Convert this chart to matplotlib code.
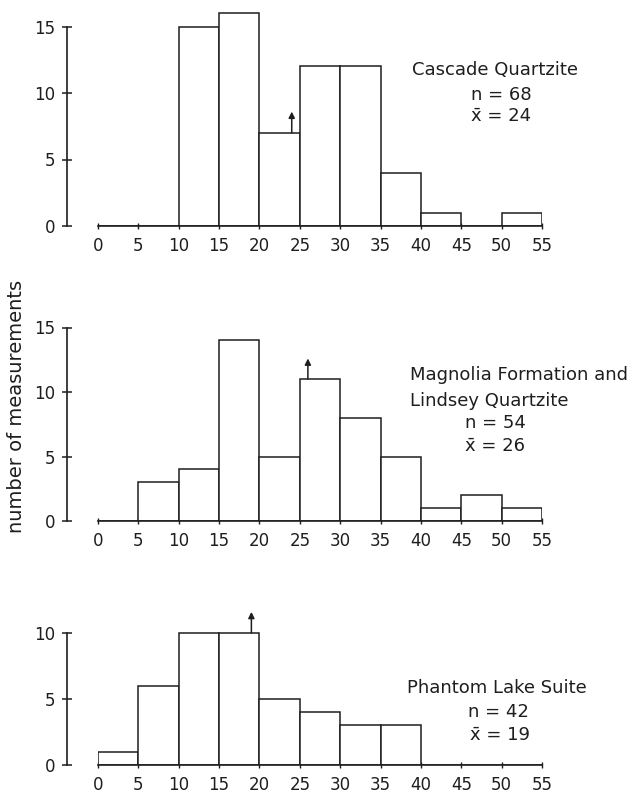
import numpy as np
import matplotlib
matplotlib.use("Agg")
import matplotlib.pyplot as plt

# limites das classes (0-5, 5-10, ... 50-55)
bordas = np.arange(0, 55, 5)

# contagens
cascade = [0, 0, 15, 16, 7, 12, 12, 4, 1, 0, 1]
magnolia = [0, 3, 4, 14, 5, 11, 8, 5, 1, 2, 1]
phantom = [1, 6, 10, 10, 5, 4, 3, 3, 0, 0, 0]

medias = [24, 26, 19]
totais = [68, 54, 42]
titulos = [["Cascade Quartzite"],
           ["Magnolia Formation and", "Lindsey Quartzite"],
           ["Phantom Lake Suite"]]
xticks = list(range(0, 60, 5))
yticks = [[0, 5, 10, 15], [0, 5, 10, 15], [0, 5, 10]]

W, H = 637, 796
cor = "#1e1e1e"
plt.rcParams['font.family'] = ['DejaVu Sans']
plt.rcParams['font.size'] = 12

fig = plt.figure(figsize=(W / 100, H / 100), dpi=100)
fig.patch.set_facecolor("white")

def px(x, y):
    return x / W, 1 - y / H

# (y do zero em px, px por unidade, topo do eixo y)
geo = [(226, 13.3, 17.0), (521, 12.9, 15.5), (765, 13.2, 11.5)]
dados = [cascade, magnolia, phantom]
x_esq, x_dir = 98, 542

for i in range(3):
    y0, ppu, topo = geo[i]
    altura = topo * ppu
    ax = fig.add_axes([x_esq / W, (H - y0) / H, (x_dir - x_esq) / W, altura / H])
    ax.bar(bordas, dados[i], width=5, align='edge', facecolor='white',
           edgecolor=cor, linewidth=1.1, zorder=2)
    ax.set_xlim(0, 55)
    ax.set_ylim(0, topo)
    for s in ['top', 'right']:
        ax.spines[s].set_visible(False)
    # eixo y afastado ~31 px (22 pt a 100 dpi)
    ax.spines['left'].set_position(('outward', 22))
    ax.spines['left'].set_bounds(0, yticks[i][-1])
    ax.spines['bottom'].set_bounds(0, 55)
    for s in ['left', 'bottom']:
        ax.spines[s].set_color(cor)
        ax.spines[s].set_linewidth(1.2)
    ax.set_xticks(xticks)
    ax.set_yticks(yticks[i])
    ax.tick_params(axis='y', direction='inout', length=7, width=1.1, pad=5,
                   colors=cor, labelsize=12)
    ax.tick_params(axis='x', direction='inout', length=5, width=1.0, pad=5.5,
                   colors=cor, labelsize=12)
    ax.patch.set_alpha(0)

    # seta indicando a media
    m = medias[i]
    idx = int(m // 5)
    base = dados[i][idx]
    ax.annotate('', xy=(m, base + 1.6), xytext=(m, base),
                arrowprops=dict(arrowstyle='-|>', color=cor, lw=1.1,
                                mutation_scale=9, shrinkA=0, shrinkB=0),
                annotation_clip=False)

# textos de cada painel
pos_titulo = [[(412, 70)], [(410, 375), (410, 401)], [(407, 688)]]
pos_n = [(471, 95), (465, 423), (468, 712)]
pos_x = [(471, 116), (465, 446), (470, 735)]
for i in range(3):
    for t, (x, y) in zip(titulos[i], pos_titulo[i]):
        fig.text(*px(x, y), t, ha='left', va='center', color=cor, fontsize=13)
    fig.text(*px(*pos_n[i]), f"n = {totais[i]}", ha='left', va='center',
             color=cor, fontsize=13)
    fig.text(*px(*pos_x[i]), f"x\u0304 = {medias[i]}", ha='left', va='center',
             color=cor, fontsize=13)

fig.text(*px(17, 406), "number of measurements", rotation=90, ha='center',
         va='center', color=cor, fontsize=14)

fig.savefig("out.png", dpi=100, facecolor=fig.get_facecolor())
